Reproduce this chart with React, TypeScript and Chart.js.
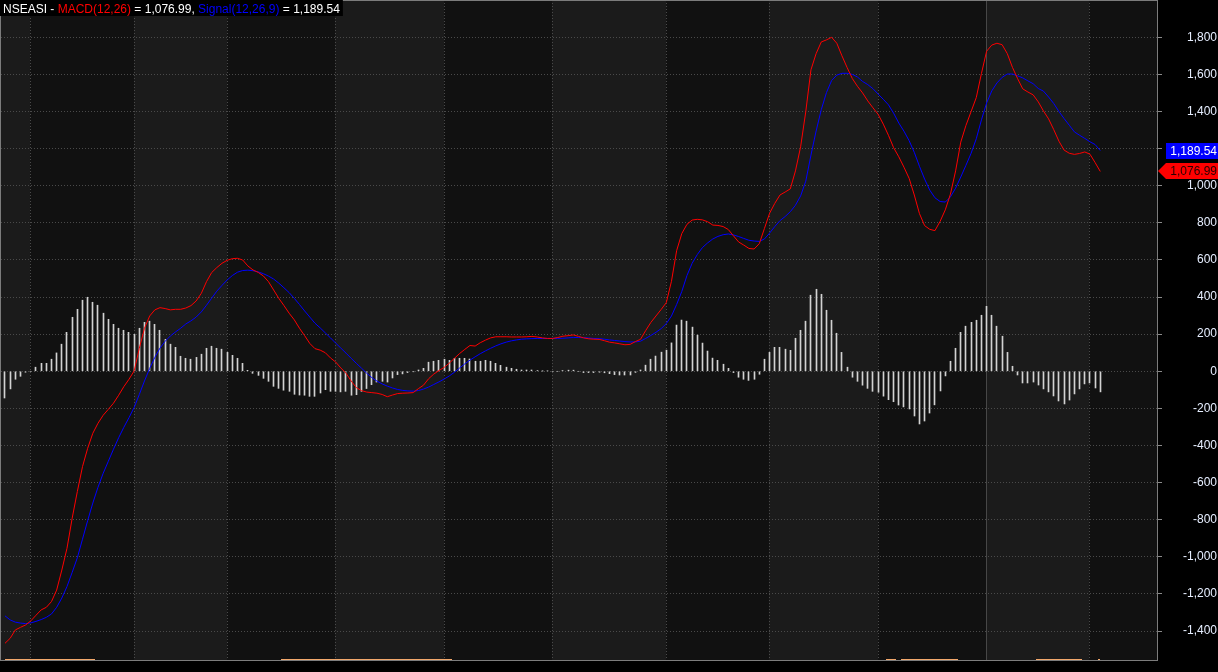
import React, { useEffect, useRef } from 'react';
import { Chart, registerables } from 'chart.js';

Chart.register(...registerables);

// ---- data (one value per trading bar) ----
const macdValues: number[] = [
  -1466, -1439, -1394, -1380, -1367, -1345, -1315, -1286, -1272, -1241,
  -1179, -1071, -954, -792, -648, -514, -415, -334, -280, -237,
  -205, -172, -129, -83, -43, 2, 124, 232, 298, 331,
  343, 338, 331, 334, 334, 341, 354, 379, 420, 483,
  532, 559, 582, 598, 607, 609, 600, 568, 546, 533,
  514, 483, 438, 393, 354, 313, 277, 232, 192, 150,
  122, 114, 100, 72, 50, 18, -10, -52, -88, -104,
  -112, -115, -118, -125, -137, -128, -120, -118, -117, -115,
  -94, -75, -40, -15, 4, 21, 44, 70, 96, 118,
  139, 136, 154, 168, 180, 186, 186, 186, 185, 185,
  185, 186, 188, 185, 180, 177, 177, 182, 189, 192,
  196, 188, 180, 175, 173, 172, 165, 157, 153, 148,
  143, 145, 160, 172, 219, 263, 298, 333, 370, 485,
  650, 742, 792, 815, 819, 816, 806, 788, 786, 780,
  764, 730, 697, 680, 662, 659, 688, 770, 852, 905,
  950, 966, 983, 1080, 1210, 1400, 1625, 1712, 1775, 1786,
  1800, 1768, 1700, 1637, 1578, 1536, 1500, 1457, 1420, 1385,
  1332, 1272, 1205, 1156, 1100, 1040, 950, 850, 785, 765,
  758, 808, 870, 955, 1080, 1235, 1325, 1400, 1475, 1605,
  1725, 1758, 1768, 1760, 1712, 1638, 1577, 1522, 1505, 1490,
  1452, 1403, 1360, 1302, 1240, 1192, 1175, 1169, 1174, 1182,
  1170, 1125, 1076.99,
];

const signalValues: number[] = [
  -1318, -1340, -1352, -1357, -1360, -1356, -1348, -1338, -1326, -1308,
  -1272, -1222, -1160, -1084, -1005, -905, -805, -710, -625, -550,
  -485, -420, -358, -302, -250, -195, -125, -52, 15, 75,
  125, 162, 190, 212, 232, 255, 272, 292, 320, 356,
  394, 432, 463, 492, 516, 534, 543, 545, 542, 536,
  526, 513, 497, 475, 450, 424, 393, 360, 325, 292,
  259, 234, 207, 180, 152, 125, 98, 70, 43, 17,
  -10, -34, -53, -68, -80, -90, -98, -103, -106, -107,
  -104, -96, -85, -71, -57, -42, -25, -5, 18, 40,
  60, 78, 95, 110, 124, 137, 148, 157, 164, 169,
  173, 175, 176, 177, 177, 177, 177, 177, 178, 180,
  182, 182, 181, 179, 177, 176, 173, 169, 166, 163,
  160, 158, 158, 162, 177, 193, 210, 230, 257, 298,
  360, 430, 516, 582, 629, 667, 692, 713, 727, 736,
  740, 735, 726, 716, 706, 702, 700, 713, 745, 780,
  812, 834, 860, 895, 945, 1025, 1165, 1295, 1410, 1502,
  1567, 1596, 1606, 1606, 1600, 1586, 1562, 1545, 1523, 1494,
  1466, 1436, 1391, 1338, 1294, 1243, 1180, 1105, 1036, 976,
  935, 915, 912, 940, 987, 1047, 1110, 1175, 1253, 1355,
  1446, 1511, 1554, 1584, 1602, 1602, 1592, 1581, 1565, 1550,
  1524, 1510, 1478, 1443, 1400, 1362, 1326, 1290, 1272, 1255,
  1237, 1222, 1189.54,
];

const histValues: number[] = [
  -144, -95, -43, -27, -5, 0, 22, 43, 43, 65,
  99, 146, 210, 291, 334, 383, 399, 372, 356, 313,
  280, 253, 232, 221, 210, 199, 232, 264, 270, 253,
  221, 172, 146, 129, 81, 70, 65, 75, 92, 124,
  135, 124, 119, 102, 86, 70, 43, 5, -11, -22,
  -38, -54, -81, -92, -102, -108, -124, -128, -129, -135,
  -135, -117, -99, -108, -108, -111, -108, -129, -126, -108,
  -93, -72, -58, -54, -58, -36, -18, -14, -7, -2,
  7, 16, 49, 54, 59, 65, 59, 70, 70, 70,
  66, 54, 54, 59, 54, 43, 32, 22, 16, 11,
  7, 7, 7, 4, 1, 2, 0, 0, 4, 6,
  6, 0, -7, -7, -7, -5, -8, -13, -18, -20,
  -20, -20, -6, 7, 33, 65, 82, 103, 114, 153,
  249, 276, 270, 238, 195, 152, 109, 71, 59, 38,
  16, -7, -32, -43, -49, -43, -16, 65, 102, 129,
  129, 119, 113, 178, 221, 270, 410, 442, 415, 329,
  275, 205, 102, 22, -32, -54, -75, -92, -108, -113,
  -134, -153, -164, -182, -192, -203, -241, -284, -268, -225,
  -181, -106, -25, 54, 124, 210, 243, 264, 275, 302,
  350, 302, 243, 189, 102, 27, -20, -63, -63, -58,
  -74, -95, -111, -133, -160, -176, -155, -122, -95, -68,
  -63, -90, -111,
];

const yTickValues: number[] = [-1400, -1200, -1000, -800, -600, -400, -200, 0, 200, 400, 600, 800, 1000, 1200, 1400, 1600, 1800];
// bar index where each month starts (dotted separators); the year change is solid
const monthStarts: number[] = [5, 25, 43, 64, 85, 106, 128, 148, 169, 190, 210];
const yearStart = 190;
// orange markers along the bottom edge, as [fromBar, toBar]
const orangeRanges: number[][] = [[0, 17.4], [53.4, 86.5], [170.6, 172.5], [173.5, 184.5], [199.6, 208.5], [211.6, 212]];

const tickerName = 'NSEASI';
const macdName = 'MACD(12,26)';
const signalName = 'Signal(12,26,9)';

const FONT = "'Liberation Sans', Arial, sans-serif";
const LIGHT_BAND = '#1b1b1b';
const DARK_BAND = '#111111';
const GRID = '#4a4a4a';

const fmt = (v: number, d = 0) =>
  v.toLocaleString('en-US', { minimumFractionDigits: d, maximumFractionDigits: d });

const decorPlugin = {
  id: 'decor',
  afterDatasetsUpdate(chart: any) {
    // snap the 1px histogram bars to whole pixel columns so they stay crisp
    chart.data.datasets.forEach((ds: any, i: number) => {
      if (ds.type !== 'bar') return;
      chart.getDatasetMeta(i).data.forEach((el: any) => {
        el.x = Math.floor(el.x) + 0.5;
      });
    });
  },
  beforeDraw(chart: any) {
    const { ctx, chartArea: ca, scales } = chart;
    const xs = scales.x;
    ctx.save();
    ctx.fillStyle = '#000';
    ctx.fillRect(0, 0, chart.width, chart.height);
    const bounds = [0, ...monthStarts.map((n) => Math.floor(xs.getPixelForValue(n))), ca.right];
    for (let i = 0; i < bounds.length - 1; i++) {
      ctx.fillStyle = i % 2 === 0 ? LIGHT_BAND : DARK_BAND;
      ctx.fillRect(bounds[i], ca.top, bounds[i + 1] - bounds[i], ca.bottom - ca.top);
    }
    ctx.restore();
  },
  beforeDatasetsDraw(chart: any) {
    const { ctx, chartArea: ca, scales } = chart;
    const xs = scales.x;
    ctx.save();
    ctx.lineWidth = 1;
    monthStarts.forEach((n) => {
      const x = Math.floor(xs.getPixelForValue(n)) + 0.5;
      ctx.beginPath();
      if (n === yearStart) {
        ctx.setLineDash([]);
        ctx.strokeStyle = '#474747';
      } else {
        ctx.setLineDash([1, 2]);
        ctx.strokeStyle = GRID;
      }
      ctx.moveTo(x, ca.top);
      ctx.lineTo(x, ca.bottom);
      ctx.stroke();
    });
    ctx.restore();
  },
  afterDraw(chart: any) {
    const { ctx, chartArea: ca, scales } = chart;
    const xs = scales.x;
    const ys = scales.y;
    ctx.save();
    // frame
    ctx.strokeStyle = '#7c7c7c';
    ctx.lineWidth = 1;
    ctx.setLineDash([]);
    ctx.strokeRect(0.5, 0.5, ca.right, ca.bottom);
    // orange markers at the bottom
    ctx.fillStyle = '#f2a86c';
    orangeRanges.forEach(([a, b]) => {
      const x1 = xs.getPixelForValue(a);
      const x2 = xs.getPixelForValue(b);
      ctx.fillRect(Math.round(x1), ca.bottom - 1, Math.max(1, Math.round(x2 - x1)), 1);
    });
    // title / legend
    const lastM = macdValues[macdValues.length - 1];
    const lastS = signalValues[signalValues.length - 1];
    ctx.font = `12px ${FONT}`;
    ctx.textBaseline = 'alphabetic';
    ctx.textAlign = 'left';
    const parts: [string, string][] = [
      [`${tickerName} - `, '#ffffff'],
      [macdName, '#ff0000'],
      [` = ${fmt(lastM, 2)}, `, '#ffffff'],
      [signalName, '#0000ff'],
      [` = ${fmt(lastS, 2)}`, '#ffffff'],
    ];
    const totalW = parts.reduce((s, p) => s + ctx.measureText(p[0]).width, 0);
    ctx.fillStyle = '#000';
    ctx.fillRect(0, 0, totalW + 6, 16);
    let x = 3;
    parts.forEach(([t, c]) => {
      ctx.fillStyle = c;
      ctx.fillText(t, x, 12.5);
      x += ctx.measureText(t).width;
    });
    // last value markers on the axis
    const ySig = Math.round(ys.getPixelForValue(lastS));
    ctx.fillStyle = '#0000ff';
    ctx.fillRect(ca.right + 9, ySig - 8, chart.width - ca.right - 9, 16);
    ctx.fillStyle = '#ffffff';
    ctx.textAlign = 'right';
    ctx.textBaseline = 'middle';
    ctx.fillText(fmt(lastS, 2), chart.width - 1, ySig + 0.5);
    const yM = Math.round(ys.getPixelForValue(lastM));
    ctx.fillStyle = '#ff0000';
    ctx.beginPath();
    ctx.moveTo(ca.right + 1, yM);
    ctx.lineTo(ca.right + 9, yM - 8);
    ctx.lineTo(chart.width, yM - 8);
    ctx.lineTo(chart.width, yM + 8);
    ctx.lineTo(ca.right + 9, yM + 8);
    ctx.closePath();
    ctx.fill();
    ctx.fillStyle = '#2a0000';
    ctx.fillText(fmt(lastM, 2), chart.width - 1, yM + 0.5);
    ctx.restore();
  },
};

export default function App() {
  const ref = useRef<HTMLCanvasElement>(null);
  useEffect(() => {
    if (!ref.current) return;
    const idx = histValues.map((_, i) => i);
    const chart = new Chart(ref.current, {
      type: 'bar',
      data: {
        datasets: [
          {
            type: 'line',
            label: macdName,
            data: macdValues.map((v, i) => ({ x: idx[i], y: v })),
            borderColor: '#ff0000',
            borderWidth: 1,
            pointRadius: 0,
            tension: 0,
            order: 1,
          } as any,
          {
            type: 'line',
            label: signalName,
            data: signalValues.map((v, i) => ({ x: idx[i], y: v })),
            borderColor: '#0000ff',
            borderWidth: 1,
            pointRadius: 0,
            tension: 0,
            order: 2,
          } as any,
          {
            type: 'bar',
            label: 'Histogram',
            data: histValues.map((v, i) => ({ x: idx[i], y: v })),
            backgroundColor: '#d2d2d2',
            borderWidth: 0,
            barThickness: 1,
            order: 3,
          } as any,
        ],
      },
      options: {
        responsive: false,
        animation: false,
        devicePixelRatio: 1,
        layout: { padding: { left: 1, right: 1, top: 0, bottom: 12 } },
        plugins: { legend: { display: false }, tooltip: { enabled: false } },
        scales: {
          x: {
            type: 'linear',
            display: false,
            offset: false,
            bounds: 'data',
            min: -0.774,
            max: 222.98,
          },
          y: {
            position: 'right',
            min: -1556,
            max: 2001,
            afterBuildTicks: (axis: any) => {
              axis.ticks = yTickValues.map((v) => ({ value: v }));
            },
            afterFit: (axis: any) => {
              axis.width = 60;
              axis.paddingTop = 0;
              axis.paddingBottom = 0;
            },
            ticks: {
              color: '#e6eeff',
              font: { family: FONT, size: 12 },
              crossAlign: 'far',
              padding: 0,
              callback: (v: any) => fmt(Number(v)),
            },
            grid: {
              color: GRID,
              tickColor: '#8a8a8a',
              tickLength: 5,
              tickBorderDash: [],
            },
            border: { display: false, dash: [1, 2] },
          },
        },
      },
      plugins: [decorPlugin],
    } as any);
    return () => chart.destroy();
  }, []);
  return (
    <div style={{ position: 'fixed', left: 0, top: 0, width: 1218, height: 672, background: '#000' }}>
      <canvas ref={ref} width={1218} height={672} style={{ display: 'block', width: 1218, height: 672 }} />
    </div>
  );
}
